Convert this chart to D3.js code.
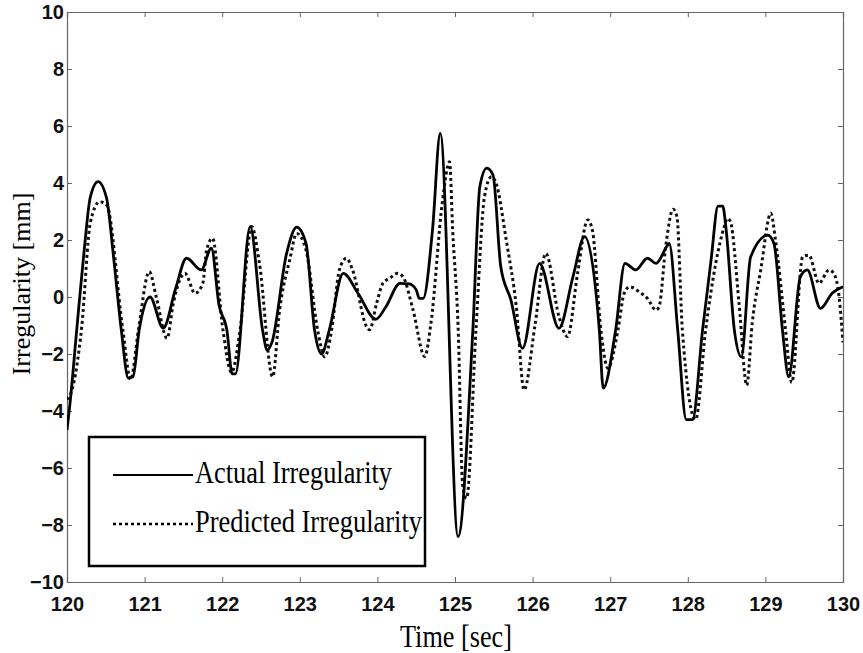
<!DOCTYPE html>
<html>
<head>
<meta charset="utf-8">
<script src="https://cdn.jsdelivr.net/npm/d3@7"></script>
<style>
  body { margin: 0; background: #fff; }
  .tick text { font-family: "Liberation Sans", Arial, sans-serif; font-weight: bold; font-size: 20px; fill: #111; }
  .tick line, .domain { stroke: #666; }
</style>
</head>
<body>
<div id="chart"></div>
<script>
// chart data
var actualT = [120.00, 120.04, 120.125, 120.22, 120.30, 120.40, 120.51, 120.60, 120.70, 120.79, 120.85, 120.93,
  121.07, 121.24, 121.40, 121.54, 121.73, 121.86, 121.96, 122.06, 122.13, 122.17, 122.36, 122.52, 122.58, 122.64,
  122.83, 122.96, 123.08, 123.19, 123.28, 123.38, 123.56, 123.75, 123.98, 124.11, 124.29, 124.41, 124.50, 124.54,
  124.59, 124.71, 124.81, 125.04, 125.23, 125.32, 125.41, 125.49, 125.59, 125.72, 125.87, 126.09, 126.34, 126.52,
  126.67, 126.86, 126.91, 127.07, 127.19, 127.33, 127.48, 127.59, 127.74, 127.76, 127.87, 127.98, 128.06, 128.19,
  128.30, 128.39, 128.45, 128.49, 128.60, 128.69, 128.81, 129.03, 129.11, 129.22, 129.30, 129.45, 129.54, 129.71,
  129.86, 130.00];
var actualV = [-4.67, -3.70, -1.16, 1.6, 3.5, 4.05, 3.47, 1.4, -1.16, -2.84, -2.8, -1.16,
  0.0, -1.09, 0.3, 1.36, 0.95, 1.71, -0.3, -1.16, -2.7, -2.7, 2.47, -1.16, -1.86, -1.6,
  1.53, 2.45, 1.88, -1.16, -2.0, -1.16, 0.83, 0.13, -0.78, -0.34, 0.48, 0.46, 0.25, -0.05,
  -0.05, 2.35, 5.74, -8.41, -1.16, 3.87, 4.52, 4.28, 1.06, -0.1, -1.8, 1.18, -1.1, 0.71,
  2.12, -1.16, -3.2, -1.16, 1.18, 0.95, 1.36, 1.18, 1.82, 1.88, -1.16, -4.3, -4.3, -1.16,
  1.3, 3.19, 3.19, 2.47, -1.16, -2.1, 1.41, 2.17, 1.88, -1.16, -2.8, 0.71, 0.95, -0.4,
  0.13, 0.36];

var predT = [120.00, 120.06, 120.19, 120.30, 120.42, 120.51, 120.72, 120.82, 120.92, 121.06, 121.15, 121.29,
  121.37, 121.52, 121.65, 121.75, 121.80, 121.875, 122.01, 122.12, 122.23, 122.38, 122.48, 122.65, 122.74, 122.87,
  122.96, 123.08, 123.23, 123.32, 123.41, 123.51, 123.60, 123.68, 123.86, 123.90, 123.99, 124.07, 124.16, 124.26,
  124.33, 124.46, 124.61, 124.69, 124.84, 124.93, 124.97, 125.04, 125.10, 125.15, 125.27, 125.38, 125.47, 125.53,
  125.66, 125.79, 125.89, 126.03, 126.17, 126.34, 126.45, 126.58, 126.71, 126.77, 126.88, 126.97, 127.10, 127.18,
  127.25, 127.37, 127.48, 127.59, 127.63, 127.72, 127.81, 127.86, 127.93, 128.10, 128.23, 128.36, 128.47, 128.51,
  128.55, 128.66, 128.76, 128.83, 128.94, 129.07, 129.13, 129.26, 129.34, 129.48, 129.56, 129.69, 129.82, 129.88,
  129.95, 130.00];
var predV = [-3.6, -3.3, -1.04, 2.6, 3.34, 3.23, -1.16, -2.9, -1.16, 0.89, 0.0, -1.45,
  -0.22, 0.83, 0.13, 0.48, 1.65, 2.06, -1.16, -2.65, -1.16, 2.47, 1.18, -2.8, -0.46, 1.3,
  2.23, 1.65, -1.16, -2.1, -1.16, 0.95, 1.36, 0.95, -1.04, -1.15, -0.22, 0.48, 0.66, 0.83,
  0.71, -0.46, -2.09, -0.92, 3.4, 4.75, 2.35, -1.04, -6.65, -7.06, -1.16, 3.52, 4.22, 3.99,
  2.0, -0.34, -3.26, -1.0, 1.53, -0.69, -1.39, 0.83, 2.7, 2.35, -1.16, -2.5, -1.16, 0.13,
  0.36, 0.19, -0.05, -0.46, -0.34, 1.88, 3.08, 2.82, -1.16, -4.3, -1.16, 1.18, 2.47, 2.76,
  2.64, -0.22, -3.1, -0.92, 0.95, 2.94, 2.0, -1.16, -3.0, 1.41, 1.47, 0.48, 0.95, 0.83,
  0.0, -1.6];

var xTicks = [120, 121, 122, 123, 124, 125, 126, 127, 128, 129, 130];
var yTicks = [-10, -8, -6, -4, -2, 0, 2, 4, 6, 8, 10];
var legendLabels = ["Actual Irregularity", "Predicted Irregularity"];

var svgWidth = 863;
var svgHeight = 653;
var margin = { top: 12, right: 20, bottom: 71, left: 67 };
var width = svgWidth - margin.left - margin.right;
var height = svgHeight - margin.top - margin.bottom;

var svg = d3.select("#chart")
  .append("svg")
  .attr("width", svgWidth)
  .attr("height", svgHeight);

var chartGroup = svg.append("g")
  .attr("transform", `translate(${margin.left}, ${margin.top})`);

var xScale = d3.scaleLinear().domain([120, 130]).range([0, width]);
var yScale = d3.scaleLinear().domain([-10, 10]).range([height, 0]);

// box with ticks pointing inward on all four sides
chartGroup.append("g")
  .attr("transform", `translate(0, ${height})`)
  .call(d3.axisBottom(xScale).tickValues(xTicks).tickFormat(d3.format("d")).tickSize(-5).tickPadding(15));
chartGroup.append("g")
  .call(d3.axisTop(xScale).tickValues(xTicks).tickFormat("").tickSize(-5));
chartGroup.append("g")
  .call(d3.axisLeft(yScale).tickValues(yTicks).tickSize(-5).tickPadding(3));
chartGroup.append("g")
  .attr("transform", `translate(${width}, 0)`)
  .call(d3.axisRight(yScale).tickValues(yTicks).tickFormat("").tickSize(-5));

chartGroup.selectAll(".domain").attr("stroke-width", 1.2);

chartGroup.append("clipPath").attr("id", "clip")
  .append("rect").attr("width", width).attr("height", height);

// monotone curve keeps the peaks where they were read but rounds them like the original
var line = d3.line()
  .x(d => xScale(d[0]))
  .y(d => yScale(d[1]))
  .curve(d3.curveMonotoneX);

var actual = d3.zip(actualT, actualV);
var predicted = d3.zip(predT, predV);

chartGroup.append("path")
  .datum(predicted)
  .attr("clip-path", "url(#clip)")
  .attr("d", line)
  .attr("fill", "none")
  .attr("stroke", "#111")
  .attr("stroke-width", 3)
  .attr("stroke-dasharray", "3,3");

chartGroup.append("path")
  .datum(actual)
  .attr("clip-path", "url(#clip)")
  .attr("d", line)
  .attr("fill", "none")
  .attr("stroke", "#000")
  .attr("stroke-width", 2.8)
  .attr("stroke-linejoin", "round");

// legend
var legend = svg.append("g");
legend.append("rect")
  .attr("x", 89).attr("y", 437)
  .attr("width", 336).attr("height", 129)
  .attr("fill", "#fff")
  .attr("stroke", "#000")
  .attr("stroke-width", 2.5);

var legendRows = [
  { label: legendLabels[0], y: 475, dash: null, len: 197 },
  { label: legendLabels[1], y: 524, dash: "3,3", len: 227 }
];
legendRows.forEach(function(r) {
  legend.append("line")
    .attr("x1", 113).attr("x2", 193)
    .attr("y1", r.y).attr("y2", r.y)
    .attr("stroke", "#000")
    .attr("stroke-width", r.dash ? 2.5 : 2)
    .attr("stroke-dasharray", r.dash);
  legend.append("text")
    .attr("x", 195).attr("y", r.y + 8)
    .attr("font-family", "Liberation Serif, Times New Roman, serif")
    .attr("font-size", 31)
    .attr("textLength", r.len)
    .attr("lengthAdjust", "spacingAndGlyphs")
    .text(r.label);
});

// axis labels
svg.append("text")
  .attr("x", 400).attr("y", 647)
  .attr("font-family", "Liberation Serif, Times New Roman, serif")
  .attr("font-size", 31)
  .attr("textLength", 112)
  .attr("lengthAdjust", "spacingAndGlyphs")
  .text("Time [sec]");

svg.append("text")
  .attr("transform", "translate(30, 284) rotate(-90)")
  .attr("text-anchor", "middle")
  .attr("font-family", "Liberation Serif, Times New Roman, serif")
  .attr("font-size", 26)
  .text("Irregularity [mm]");
</script>
</body>
</html>
